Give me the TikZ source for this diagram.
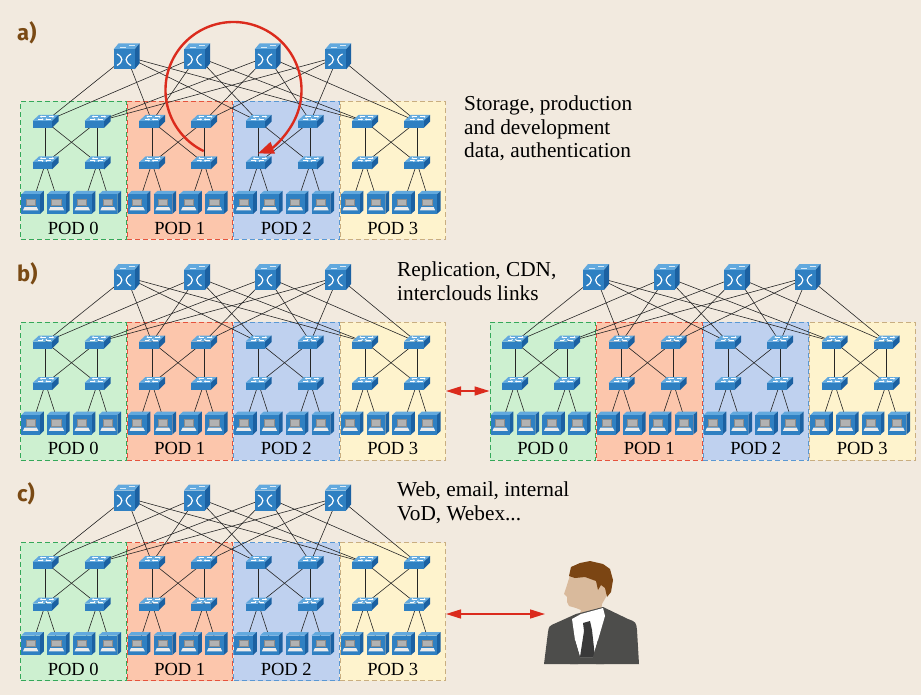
\documentclass[tikz,border=0pt]{standalone}
\usepackage{fontspec}
\setmainfont{Liberation Serif}
\newfontfamily\tagfont{Fira Sans}
\usetikzlibrary{arrows.meta}

\definecolor{paper}{HTML}{F2EADF}
\definecolor{swfront}{HTML}{2F80C2}
\definecolor{swtop}{HTML}{62A9DE}
\definecolor{swside}{HTML}{1B61A2}
\definecolor{podgreen}{HTML}{CDF0D0}
\definecolor{podgreenline}{HTML}{35A85A}
\definecolor{podred}{HTML}{FCC6AC}
\definecolor{podredline}{HTML}{E5533D}
\definecolor{podblue}{HTML}{BFD1EF}
\definecolor{podblueline}{HTML}{5A98D3}
\definecolor{podyellow}{HTML}{FEF3CD}
\definecolor{podyellowline}{HTML}{C9AE80}
\definecolor{tagbrown}{HTML}{7A4A14}
\definecolor{arrowred}{HTML}{DB2B1D}
\definecolor{suit}{HTML}{4D4D4B}
\definecolor{skin}{HTML}{D9BA9C}
\definecolor{hair}{HTML}{7B4513}
\definecolor{tiegrey}{HTML}{393939}

\tikzset{
  link/.style={draw=black!85, line width=0.6pt},
  podbox/.style={line width=1pt, dash pattern=on 5pt off 3pt,
    minimum width=105.5pt, minimum height=138pt, inner sep=0pt},
  podlabel/.style={font=\fontsize{18.5}{21}\selectfont, inner sep=0pt},
  panellabel/.style={font=\tagfont\bfseries\fontsize{22}{24}\selectfont,
    text=tagbrown, inner sep=0pt, anchor=west},
  note/.style={font=\fontsize{21.3}{23.5}\selectfont, align=left,
    anchor=north west, inner sep=0pt},
  twoway/.style={draw=arrowred, line width=1.5pt,
    {Triangle[length=15pt,width=9pt]}-{Triangle[length=15pt,width=9pt]}},
  wa/.style={white, line width=0.6pt, -{Stealth[length=1.6pt,width=2.2pt]}},
  % core switch cube with crossing arrows
  coresw/.pic={
    \fill[swtop] (-13,-7) -- (-8,-13) -- (13,-13) -- (8,-7) -- cycle;
    \fill[swside] (8,-7) -- (13,-13) -- (13,7) -- (8,13) -- cycle;
    \fill[swfront] (-13,-7) rectangle (8,13);
    \draw[white, line width=1.2pt] (-9.5,-2.5) .. controls (-3,1) and (-3,5) .. (-9.5,9);
    \draw[white, line width=1.2pt] (4.5,-2.5) .. controls (-2,1) and (-2,5) .. (4.5,9);
    \draw[white!75!swtop, line width=0.5pt] (-7,-9) -- (-1,-9) (2,-11) -- (8,-11);
  },
  % flat workgroup switch
  wgsw/.pic={
    \fill[swtop] (-13,-0.5) -- (-6.5,-6.5) -- (13,-6.5) -- (6.5,-0.5) -- cycle;
    \fill[swside] (6.5,-0.5) -- (13,-6.5) -- (13,0) -- (6.5,6.5) -- cycle;
    \fill[swfront] (-13,-0.5) rectangle (6.5,6.5);
    \draw[wa] (0,-4.8) -- (-5.5,-4.8);
    \draw[wa] (3,-4.8) -- (8.5,-4.8);
    \draw[wa] (-7.5,-2.2) -- (-2,-2.2);
    \draw[wa] (5.5,-2.2) -- (0,-2.2);
  },
  % server cube with a workstation symbol
  server/.pic={
    \fill[swtop] (-11.25,-8) -- (-7.5,-11.5) -- (11.25,-11.5) -- (7.5,-8) -- cycle;
    \fill[swside] (7.5,-8) -- (11.25,-11.5) -- (11.25,8) -- (7.5,11.5) -- cycle;
    \fill[swfront] (-11.25,-8) rectangle (7.5,11.5);
    \fill[black!45] (-7,-3.8) rectangle (3.3,3.8);
    \fill[black!30] (-6,-2.8) rectangle (2.3,2.8);
    \fill[black!8] (-8,4.6) -- (4.3,4.6) -- (5.8,7.8) -- (-9.5,7.8) -- cycle;
  },
}

% one fat tree: #1 name prefix, #2 x offset, #3 y offset
\newcommand\drawfattree[3]{%
  \foreach \j/\fc/\dc in {0/podgreen/podgreenline,1/podred/podredline,
                          2/podblue/podblueline,3/podyellow/podyellowline}{%
    \node[podbox, fill=\fc, draw=\dc] (#1-p\j) at ({#2+73.25+106.5*\j},{#3+170.5}) {};
  }
  \foreach \i in {1,...,4}{%
    \coordinate (#1-c\i) at ({#2+126.5+70.5*(\i-1)},{#3+56.5});
  }
  \foreach \j in {0,...,3}{%
    \coordinate (#1-p\j-a1) at ({#2+45.5+106.5*\j},{#3+121.5});
    \coordinate (#1-p\j-a2) at ({#2+97.5+106.5*\j},{#3+121.5});
    \coordinate (#1-p\j-e1) at ({#2+45.5+106.5*\j},{#3+163});
    \coordinate (#1-p\j-e2) at ({#2+97.5+106.5*\j},{#3+163});
    \foreach \k in {1,...,4}{%
      \coordinate (#1-p\j-s\k) at ({#2+32.5+106.5*\j+25.8*(\k-1)},{#3+202.5});
    }
  }
  \foreach \j in {0,...,3}{%
    \draw[link] (#1-c1) -- (#1-p\j-a1);
    \draw[link] (#1-c2) -- (#1-p\j-a1);
    \draw[link] (#1-c3) -- (#1-p\j-a2);
    \draw[link] (#1-c4) -- (#1-p\j-a2);
    \draw[link] (#1-p\j-a1) -- (#1-p\j-e1);
    \draw[link] (#1-p\j-a1) -- (#1-p\j-e2);
    \draw[link] (#1-p\j-a2) -- (#1-p\j-e1);
    \draw[link] (#1-p\j-a2) -- (#1-p\j-e2);
    \draw[link] (#1-p\j-e1) -- (#1-p\j-s1);
    \draw[link] (#1-p\j-e1) -- (#1-p\j-s2);
    \draw[link] (#1-p\j-e2) -- (#1-p\j-s3);
    \draw[link] (#1-p\j-e2) -- (#1-p\j-s4);
  }
  \foreach \i in {1,...,4}{\pic at (#1-c\i) {coresw};}
  \foreach \j in {0,...,3}{%
    \pic at (#1-p\j-a1) {wgsw};
    \pic at (#1-p\j-a2) {wgsw};
    \pic at (#1-p\j-e1) {wgsw};
    \pic at (#1-p\j-e2) {wgsw};
    \foreach \k in {1,...,4}{\pic at (#1-p\j-s\k) {server};}
    \node[podlabel] (#1-p\j-name) at ({#2+73.25+106.5*\j},{#3+228}) {POD \j};
  }
}

\begin{document}
\begin{tikzpicture}[x=1pt, y=-1pt]
\fill[paper] (0,0) rectangle (921,695);
\useasboundingbox (0,0) rectangle (921,695);

% a) traffic kept inside one data center
\node[panellabel] (a-tag) at (17,33) {a)};
\drawfattree{a}{0}{0}
\draw[arrowred, line width=2.4pt, -{Triangle[length=16pt,width=12pt]}]
  (233.5,90) ++(116:68) arc[start angle=116, end angle=429, radius=68];
\node[note] (a-note) at (464,96) {Storage, production\\and development\\data, authentication};

% b) traffic between two data centers
\node[panellabel] (b-tag) at (17,274) {b)};
\drawfattree{b}{0}{220.5}
\drawfattree{bb}{469.5}{220.5}
\draw[twoway] (b-p3.east) -- (bb-p0.west);
\node[note] (b-note) at (397,262) {Replication, CDN,\\interclouds links};

% c) traffic between the data center and its users
\node[panellabel] (c-tag) at (17,494) {c)};
\drawfattree{c}{0}{441}
\node[note] (c-note) at (397,482) {Web, email, internal\\VoD, Webex...};

% the user
\coordinate (user) at (545,614);
\fill[skin] (571,572) -- (567,585) -- (564,594) -- (567,597) -- (567,602)
  -- (569,606) -- (576,608) -- (581,610) -- (578,619) -- (601,612)
  -- (602,604) -- (606,597) -- (608,588) -- (600,575) -- cycle;
\fill[hair] (569,576) -- (571,567) -- (580,563) -- (590,561) -- (603,564)
  -- (610,569) -- (613,580) -- (611,592) -- (607,597) -- (605,588)
  -- (601,585) -- (598,590) -- (596,581) -- (585,577) -- (575,578) -- cycle;
\fill[suit] (544,664) -- (548,632) .. controls (549,626) .. (556,623)
  -- (576,614) -- (603,607) -- (628,619) .. controls (636,622) .. (637,630)
  -- (639,664) -- cycle;
\fill[white] (572,619) -- (581,614) -- (603,608) -- (605,616) -- (598,640)
  -- (593,657) -- (580,657) -- (575,640) -- cycle;
\fill[tiegrey] (583,623) -- (590,621) -- (592,630) -- (595,657) -- (580,657)
  -- (584,631) -- cycle;
\fill[suit] (575,640) -- (580,657) -- (578,664) -- (570,664) -- cycle;
\fill[suit] (598,640) -- (593,657) -- (596,664) -- (604,664) -- cycle;
\draw[twoway] (c-p3.east |- user) -- (user);
\end{tikzpicture}
\end{document}
